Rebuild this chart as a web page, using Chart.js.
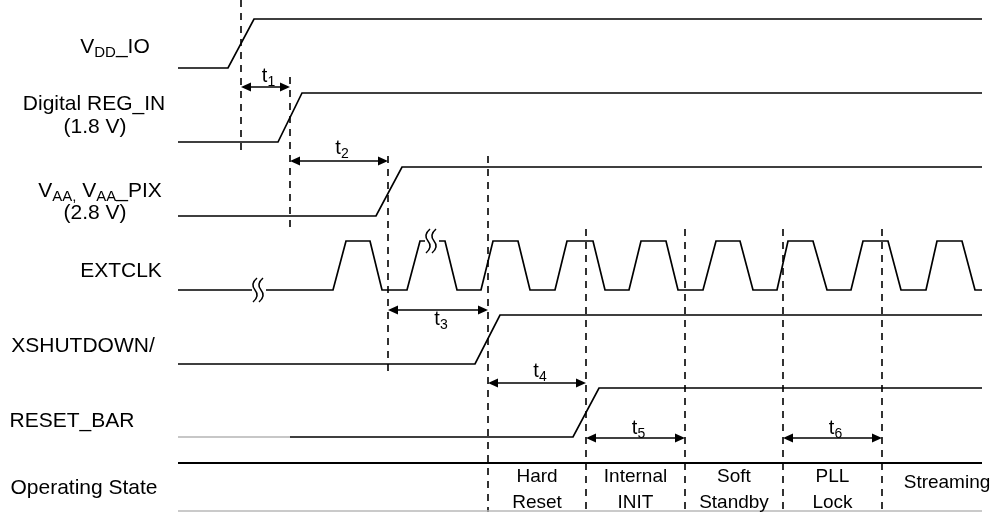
<!DOCTYPE html>
<html>
<head>
<meta charset="utf-8">
<script src="https://cdn.jsdelivr.net/npm/chart.js@4.4.1/dist/chart.umd.min.js"></script>
<style>
  html, body { margin: 0; padding: 0; background: #fff; }
  #wrap { width: 996px; height: 512px; }
</style>
</head>
<body>
<div id="wrap"><canvas id="timing" width="996" height="512"></canvas></div>
<script>
// waveform vertices: time (x units) and logic level (0 low, 1 high)
const vddIoTime = [178, 228, 254, 982];
const vddIoLevel = [0, 0, 1, 1];
const regInTime = [178, 278, 302, 982];
const regInLevel = [0, 0, 1, 1];
const vaaTime = [178, 376, 402, 982];
const vaaLevel = [0, 0, 1, 1];
const extclkTime = [178, 333, 346, 370, 382, 407, 420, 445, 457, 481, 493, 518, 530, 555, 567, 593, 605,
  629, 641, 666, 678, 703, 716, 740, 753, 777, 788, 813, 827, 851, 863, 888, 901, 926, 937, 962, 975, 982];
const extclkLevel = [0, 0, 1, 1, 0, 0, 1, 1, 0, 0, 1, 1, 0, 0, 1, 1, 0, 0, 1, 1, 0,
  0, 1, 1, 0, 0, 1, 1, 0, 0, 1, 1, 0, 0, 1, 1, 0, 0];
const xshutTime = [178, 475, 500, 982];
const xshutLevel = [0, 0, 1, 1];
const resetLeadTime = [178, 290];
const resetTime = [290, 573, 599, 982];
const resetLevel = [0, 0, 1, 1];

// break marks on EXTCLK (time, level)
const breakTime = [258, 431];
const breakLevel = [0, 1];

// dashed reference instants
const markerTime = [241, 290, 388, 488, 586, 685, 783, 882];

// timing parameters
const paramNames = ['1', '2', '3', '4', '5', '6'];
const paramStart = [241, 290, 388, 488, 586, 783];
const paramEnd = [290, 388, 488, 586, 685, 882];

// operating states
const stateNames = [['Hard', 'Reset'], ['Internal', 'INIT'], ['Soft', 'Standby'], ['PLL', 'Lock'], ['Streaming']];
const stateStart = [488, 586, 685, 783, 882];
const stateEnd = [586, 685, 783, 882, 1012];
const traceStart = 178;
const traceEnd = 982;

// ---- layout (pixel-like y units) ----
const lanes = [
  { low: 68, high: 19 }, { low: 142, high: 93 }, { low: 216, high: 167 },
  { low: 290, high: 241 }, { low: 364, high: 315 }, { low: 437, high: 388 }
];
const markerTop = [0, 77, 156, 156, 229, 229, 229, 229];
const markerBottom = [154, 229, 372, 512, 512, 512, 512, 512];
const paramY = [87, 161, 310, 383, 438, 438];
const paramLabelY = [82, 154, 325, 377, 434, 434];
const stateTopY = 463, stateBottomY = 511;

const FONT = '"Liberation Sans", Arial, Helvetica, sans-serif';

function wave(times, levels, lane) {
  return times.map((t, i) => ({ x: t, y: levels[i] ? lane.high : lane.low }));
}
function line(data, extra) {
  return Object.assign({ data, showLine: true, borderColor: '#000', borderWidth: 1.7, pointRadius: 0, tension: 0, fill: false }, extra);
}

const datasets = [
  line(wave(vddIoTime, vddIoLevel, lanes[0])),
  line(wave(regInTime, regInLevel, lanes[1])),
  line(wave(vaaTime, vaaLevel, lanes[2])),
  line(wave(extclkTime, extclkLevel, lanes[3])),
  line(wave(xshutTime, xshutLevel, lanes[4])),
  line(wave(resetLeadTime, [0, 0], lanes[5]), { borderColor: '#b4b4b4', borderWidth: 1.4 }),
  line(wave(resetTime, resetLevel, lanes[5])),
  line([{ x: traceStart, y: stateTopY }, { x: traceEnd, y: stateTopY }], { borderWidth: 1.9 }),
  line([{ x: traceStart, y: stateBottomY }, { x: traceEnd, y: stateBottomY }], { borderColor: '#b8b8b8', borderWidth: 1.4 })
];
markerTime.forEach((t, i) => {
  datasets.push(line([{ x: t, y: markerTop[i] }, { x: t, y: markerBottom[i] }], { borderDash: [7, 6], borderWidth: 1.6 }));
});
paramStart.forEach((t, i) => {
  datasets.push(line([{ x: t + 2, y: paramY[i] }, { x: paramEnd[i] - 2, y: paramY[i] }], { borderWidth: 1.7 }));
});

function rich(ctx, parts, x, yBase, size) {
  let w = 0;
  const sub = Math.round(size * 0.7);
  parts.forEach(p => { ctx.font = (p.sub ? sub : size) + 'px ' + FONT; p.w = ctx.measureText(p.t).width; w += p.w; });
  let cx = x - w / 2;
  parts.forEach(p => {
    ctx.font = (p.sub ? sub : size) + 'px ' + FONT;
    ctx.fillText(p.t, cx, p.sub ? yBase + size * 0.2 : yBase);
    cx += p.w;
  });
}

const signalLabels = [
  { parts: [{ t: 'V' }, { t: 'DD', sub: true }, { t: '_IO' }], x: 115, y: 53 },
  { parts: [{ t: 'Digital REG_IN' }], x: 94, y: 110 },
  { parts: [{ t: '(1.8 V)' }], x: 95, y: 133 },
  { parts: [{ t: 'V' }, { t: 'AA,', sub: true }, { t: ' V' }, { t: 'AA', sub: true }, { t: '_PIX' }], x: 100, y: 197 },
  { parts: [{ t: '(2.8 V)' }], x: 95, y: 219 },
  { parts: [{ t: 'EXTCLK' }], x: 121, y: 277 },
  { parts: [{ t: 'XSHUTDOWN/' }], x: 83, y: 352 },
  { parts: [{ t: 'RESET_BAR' }], x: 72, y: 427 },
  { parts: [{ t: 'Operating State' }], x: 84, y: 494 }
];

const deco = {
  id: 'deco',
  afterDatasetsDraw(chart) {
    const { ctx, scales: { x, y } } = chart;
    ctx.save();
    ctx.fillStyle = '#000';
    ctx.strokeStyle = '#000';
    // arrow heads and parameter names
    paramStart.forEach((t, i) => {
      const py = y.getPixelForValue(paramY[i]);
      [[x.getPixelForValue(t), 1], [x.getPixelForValue(paramEnd[i]), -1]].forEach(([px, d]) => {
        ctx.beginPath();
        ctx.moveTo(px, py);
        ctx.lineTo(px + d * 10, py - 4.5);
        ctx.lineTo(px + d * 10, py + 4.5);
        ctx.closePath();
        ctx.fill();
      });
      const cx = (x.getPixelForValue(t) + x.getPixelForValue(paramEnd[i])) / 2 + 3;
      rich(ctx, [{ t: 't' }, { t: paramNames[i], sub: true }], cx, y.getPixelForValue(paramLabelY[i]), 20);
    });
    // break marks
    breakTime.forEach((t, i) => {
      const px = x.getPixelForValue(t);
      const lane = lanes[3];
      const py = y.getPixelForValue(breakLevel[i] ? lane.high : lane.low);
      ctx.fillStyle = '#fff';
      ctx.fillRect(px - 6, py - 3, 14, 6);
      ctx.fillStyle = '#000';
      ctx.lineWidth = 1.5;
      [0, 6].forEach(dx => {
        const bx = px + dx - 3;
        ctx.beginPath();
        ctx.moveTo(bx + 2, py - 12);
        ctx.quadraticCurveTo(bx - 5, py - 6, bx, py);
        ctx.quadraticCurveTo(bx + 5, py + 6, bx - 2, py + 12);
        ctx.stroke();
      });
    });
    // signal names
    ctx.fillStyle = '#000';
    ctx.textBaseline = 'alphabetic';
    signalLabels.forEach(l => rich(ctx, l.parts, l.x, y.getPixelForValue(l.y), 21));
    // state names
    stateNames.forEach((names, i) => {
      const cx = (x.getPixelForValue(stateStart[i]) + x.getPixelForValue(stateEnd[i])) / 2;
      if (names.length === 1) {
        rich(ctx, [{ t: names[0] }], cx, y.getPixelForValue(488), 19);
      } else {
        rich(ctx, [{ t: names[0] }], cx, y.getPixelForValue(482), 19);
        rich(ctx, [{ t: names[1] }], cx, y.getPixelForValue(508), 19);
      }
    });
    ctx.restore();
  }
};

new Chart(document.getElementById('timing'), {
  type: 'scatter',
  data: { datasets },
  options: {
    responsive: false,
    animation: false,
    layout: { padding: 0 },
    scales: {
      x: { type: 'linear', min: 0, max: 996, display: false },
      y: { type: 'linear', min: 0, max: 512, reverse: true, display: false }
    },
    plugins: { legend: { display: false }, tooltip: { enabled: false } }
  },
  plugins: [deco]
});
</script>
</body>
</html>
